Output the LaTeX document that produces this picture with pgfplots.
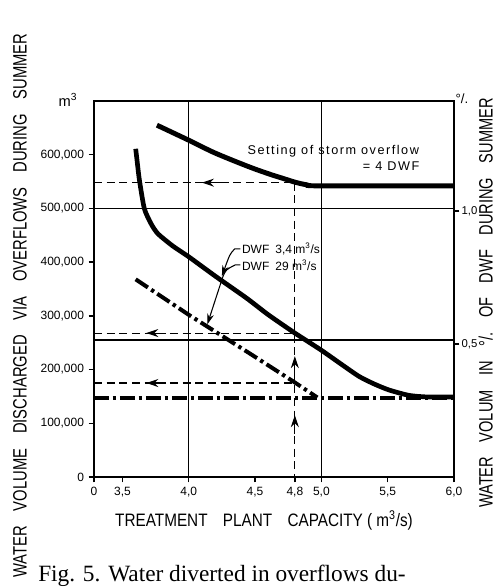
\documentclass[border=0pt]{standalone}
\usepackage{pgfplots}
\pgfplotsset{compat=1.18}
\usepackage{fontspec}
\setmainfont{Liberation Sans}
\newfontfamily\seriffont{Liberation Serif}
\usetikzlibrary{arrows.meta}
\tikzset{guide/.style={line width=0.8pt, dash pattern=on 6pt off 3.5pt},
  arr/.style={line width=0.8pt,-{Stealth[length=9pt,width=6pt,inset=3pt]}}}
\begin{document}
\begin{tikzpicture}
\path[use as bounding box] (0,0) rectangle (372pt,440.25pt);
\begin{axis}[
  at={(70.5pt,82.5pt)}, anchor=south west,
  scale only axis, width=270pt, height=282pt,
  xmin=3.2857, xmax=6, ymin=0, ymax=700000,
  axis line style={line width=1.3pt},
  xtick={3.2857,3.5,4,4.5,4.8,5,5.5,6},
  xticklabels={0,{3,5},{4,0},{4,5},{4,8},{5,0},{5,5},{6,0}},
  ytick={0,100000,200000,300000,400000,500000,600000},
  yticklabels={0,{100,000},{200,000},{300,000},{400,000},{500,000},{600,000}},
  scaled y ticks=false,
  tick align=outside, major tick length=4pt,
  xtick pos=bottom, ytick pos=left,
  tick style={line width=1pt, black},
  ticklabel style={font=\fontsize{9}{10}\selectfont},
  /pgf/number format/assume math mode=true,
  clip=false,
]
% grid lines
\addplot[black, line width=0.9pt] coordinates {(3.2857,500000) (6,500000)};
\addplot[black, line width=0.9pt] coordinates {(3.2857,255000) (6,255000)};
\addplot[black, line width=0.9pt] coordinates {(4,0) (4,700000)};
\addplot[black, line width=0.9pt] coordinates {(5,0) (5,700000)};
% dashed guides
\addplot[black, guide] coordinates {(3.2857,548000) (4.8,548000)};
\addplot[black, guide] coordinates {(3.2857,268000) (4.8,268000)};
\addplot[black, guide] coordinates {(3.2857,175000) (4.8,175000)};
\addplot[black, guide] coordinates {(4.8,548000) (4.8,0)};
% arrows on guides
\draw[arr] (axis cs:4.25,548000) -- (axis cs:4.1,548000);
\draw[arr] (axis cs:3.83,268000) -- (axis cs:3.68,268000);
\draw[arr] (axis cs:3.83,175000) -- (axis cs:3.68,175000);
\draw[arr] (axis cs:4.8,190000) -- (axis cs:4.8,225000);
\draw[arr] (axis cs:4.8,80000) -- (axis cs:4.8,115000);
% curve 1: storm overflow setting 4 DWF
\addplot[black, line width=3.7pt, smooth] coordinates {
 (3.76,655000) (4.0,627000) (4.2,603000) (4.46,577000) (4.62,563000)
 (4.71,556000) (4.8,549000) (4.89,544000) (5.0,542000) (6.0,542000)};
% curve 2: DWF 3,4 m3/s
\addplot[black, line width=3.5pt, smooth, tension=0.4] coordinates {
 (3.600,611000) (3.610,590000) (3.628,553000) (3.665,500000) (3.715,472000)
 (3.767,453000) (3.88,430000) (4.0,410000) (4.2,374000) (4.436,333000)
 (4.6,302000) (4.8,268000) (5.0,236000) (5.15,210000) (5.286,187000)
 (5.4,173000) (5.51,162000) (5.66,152000) (5.8,149000) (6.0,149000)};
% curve 3: DWF 29 m3/s (dash-dot)
\addplot[black, line width=3pt, dash pattern=on 11pt off 3pt on 2.5pt off 3pt] coordinates {
 (3.60,368000) (4.0,302000) (4.46,230000) (4.8,176000) (4.97,148000)};
\addplot[black, line width=3pt, dash pattern=on 11pt off 3pt on 2.5pt off 3pt] coordinates {
 (3.2857,147000) (6,147000)};
% texts
\node[font=\fontsize{9.5}{11}\selectfont\addfontfeatures{LetterSpace=12}] at (axis cs:5.09,607000) {Setting of storm overflow};
\node[anchor=east, font=\fontsize{9.5}{11}\selectfont\addfontfeatures{LetterSpace=12}] at (axis cs:5.774,579000) {= 4 DWF};
\node[anchor=west, inner sep=1pt, font=\fontsize{9}{10}\selectfont] at (axis cs:4.39,424600) {DWF\enspace 3,4 m\textsuperscript{3}/s};
\node[anchor=west, inner sep=1pt, font=\fontsize{9}{10}\selectfont] at (axis cs:4.39,394800) {DWF\enspace 29 m\textsuperscript{3}/s};
\draw[line width=0.8pt,-{Stealth[length=8pt,width=5pt,inset=2.5pt]}] (axis cs:4.39,424600) -- (axis cs:4.346,424600) .. controls (axis cs:4.31,415000) .. (axis cs:4.25,374000);
\draw[line width=0.8pt,-{Stealth[length=8pt,width=5pt,inset=2.5pt]}] (axis cs:4.39,394800) -- (axis cs:4.35,394800) .. controls (axis cs:4.28,386000) .. (axis cs:4.256,372000) -- (axis cs:4.14,284000);
\end{axis}
\begin{axis}[
  at={(70.5pt,82.5pt)}, anchor=south west,
  scale only axis, width=270pt, height=282pt,
  xmin=3.2857, xmax=6, ymin=0, ymax=1.4141,
  hide x axis, axis y line*=right,
  axis line style={line width=1.3pt},
  ytick={0.5,1}, yticklabels={{0,5},{1,0}},
  tick align=outside, major tick length=4pt,
  tick style={line width=1pt, black},
  ticklabel style={font=\fontsize{8.5}{10}\selectfont, inner sep=1.5pt},
  /pgf/number format/assume math mode=true,
]
\addplot[draw=none] coordinates {(4,0.5)};
\end{axis}
% outer labels
\node[rotate=90] at (15pt,211pt) {\scalebox{0.765}[1]{\fontsize{14.5}{16}\selectfont WATER\quad VOLUME\quad DISCHARGED\quad VIA\quad OVERFLOWS\quad DURING\quad SUMMER}};
\node[rotate=90] at (364.3pt,213pt) {\scalebox{0.755}[1]{\fontsize{14.5}{16}\selectfont WATER\quad VOLUM\quad IN\quad °/.\quad OF\quad DWF\quad DURING\quad SUMMER}};
\node at (198pt,50.25pt) {\scalebox{0.85}[1]{\fontsize{13.5}{15}\selectfont TREATMENT\quad PLANT\quad CAPACITY ( m\textsuperscript{3}/s)}};
\node[anchor=base west, inner sep=0pt] at (28.5pt,4.4pt) {\seriffont\fontsize{17.5}{20}\selectfont Fig. 5. Water diverted in overflows du-};
\node[font=\fontsize{11}{12}\selectfont] at (51pt,365.25pt) {m\textsuperscript{3}};
\node[font=\fontsize{10}{12}\selectfont] at (346.5pt,366pt) {°/.};
\end{tikzpicture}
\end{document}
